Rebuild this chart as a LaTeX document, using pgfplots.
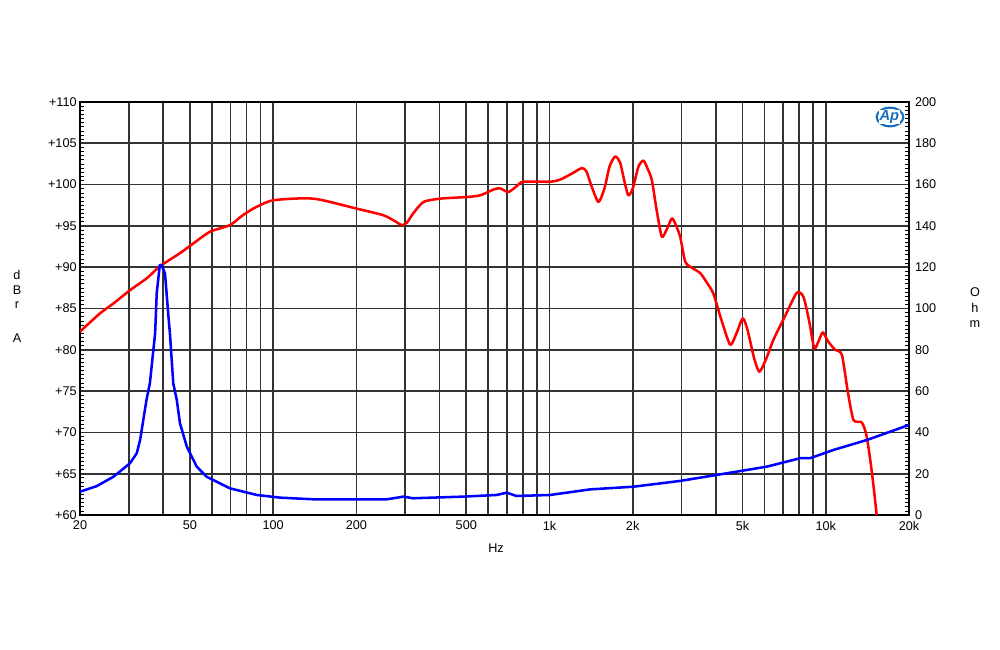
\documentclass[border=0pt]{standalone}
\usepackage{fontspec}
\setmainfont{Liberation Sans}
\usepackage{pgfplots}
\pgfplotsset{compat=1.18}
\definecolor{apblue}{RGB}{25,110,190}
\begin{document}
\begin{tikzpicture}[x=1pt,y=1pt]
\path[use as bounding box] (-60,-101.25) rectangle (690,386.25);
\begin{axis}[at={(0,0)},anchor=south west,scale only axis,
  width=621.75pt,height=309.75pt,
  xmode=log,xmin=20,xmax=20000,ymin=60,ymax=110,
  xtick={20,30,40,50,60,70,80,90,100,200,300,400,500,600,700,800,900,1000,2000,3000,4000,5000,6000,7000,8000,9000,10000,20000},
  xticklabels={20,,,50,,,,,100,200,,,500,,,,,1k,2k,,,5k,,,,,10k,20k},
  minor xtick={},
  ytick={60,65,...,110},
  yticklabels={+60,+65,+70,+75,+80,+85,+90,+95,+100,+105,+110},
  minor y tick num=9,
  ytick pos=left, xtick pos=bottom,
  major tick length=0pt, minor tick length=3pt,
  tick align=inside,
  grid=major,
  major grid style={line width=1.25pt,black!80},
  axis line style={line width=1.25pt,black},
  every tick/.style={black,line width=0.5pt},
  tick label style={font=\fontsize{9.5}{10}\selectfont},
  xticklabel style={yshift=-1pt},
  yticklabel style={xshift=1pt},
  clip=true]
\addplot[red,line width=1.9pt,line join=round,smooth,tension=0.4] coordinates {
(20,82.2)(23.6,84.4)(26.4,85.6)(30.3,87.2)(35,88.7)(38.9,90.1)(46,91.7)(52,93.0)
(59.1,94.3)(69.8,95.1)(77,96.2)(84.8,97.1)(100,98.1)(140,98.3)(200,97.1)(250,96.3)
(275,95.6)(292,95.1)(305,95.4)(321,96.5)(350,97.9)(402,98.3)(502,98.5)(561,98.7)
(627,99.4)(662,99.55)(710,99.1)(760,99.8)(804,100.35)(1005,100.35)(1092,100.6)
(1200,101.3)(1309,102.0)(1360,101.6)(1420,99.8)(1503,97.9)(1580,99.5)(1650,102.2)
(1727,103.4)(1800,102.7)(1870,100.3)(1929,98.7)(2000,99.5)(2100,102.2)(2188,102.9)
(2260,102.0)(2344,100.6)(2440,97.0)(2548,93.7)(2650,94.5)(2770,95.9)(2850,95.3)
(2970,93.7)(3097,90.7)(3250,90.0)(3508,89.3)(3700,88.2)(3918,86.8)(4200,83.5)
(4508,80.6)(4750,82.0)(5003,83.8)(5200,82.5)(5500,79.0)(5750,77.35)(6100,79.0)
(6460,81.2)(7100,84.0)(7850,86.9)(8300,86.4)(8700,83.5)(9080,80.2)(9400,81.0)
(9750,82.1)(10200,81.0)(10810,80.0)(11430,79.4)(12000,75.0)(12590,71.5)(13500,71.2)
(14060,69.5)(14700,65.0)(15280,60.0)};
\end{axis}
\begin{axis}[at={(0,0)},anchor=south west,scale only axis,
  width=621.75pt,height=309.75pt,
  xmode=log,xmin=20,xmax=20000,ymin=0,ymax=200,
  axis x line=none, axis y line*=right,
  ytick={0,20,...,200},
  minor y tick num=9,
  major tick length=0pt, minor tick length=3pt,
  tick align=inside,
  axis line style={line width=1.25pt,black,-},
  every tick/.style={black,line width=0.5pt},
  tick label style={font=\fontsize{9.5}{10}\selectfont},
  yticklabel style={xshift=1pt},
  /pgf/number format/assume math mode=true,
  clip=true]
\addplot[blue,line width=1.9pt,line join=round] coordinates {
(20,11.3)(23,14)(26.4,18.5)(30.3,25.0)(32.1,29.9)(33,36.3)(34.8,55.7)(35.8,63.8)
(37.4,88)(37.9,107.4)(38.9,121.1)(39.5,121)(40.6,117)(41.8,96)(42.3,88)(43.5,63.8)
(44.8,55.7)(46,44.4)(48.7,33.1)(52.9,23.4)(57.5,18.5)(69.8,12.9)(87.2,9.7)(106,8.4)
(140,7.6)(258,7.6)(296,8.9)(321,8.1)(488,8.9)(644,9.7)(700,10.8)(760,9.2)(1005,9.7)
(1403,12.4)(2011,13.7)(2970,16.5)(4027,19.4)(6110,23.4)(8070,27.5)(8770,27.5)
(10650,31.5)(14060,36.3)(20000,43.6)};
\end{axis}
\begin{scope}[every node/.style={font=\fontsize{9.5}{10}\selectfont,inner sep=0pt}]
\node at (-47.25,180) {d};
\node at (-47.25,168.75) {B};
\node at (-47.25,157.5) {r};
\node at (-47.25,132.75) {A};
\node at (671.25,167.25) {O};
\node at (671.25,155.25) {h};
\node at (671.25,143.25) {m};
\node at (312,-24.75) {Hz};
\end{scope}
\draw[apblue,line width=1.6pt] (607.5,298.5) ellipse (10 and 7);
\node[fill=white,inner sep=0.5pt,text=apblue,font=\bfseries\itshape\fontsize{11}{11}\selectfont] at (607,298.5) {Ap};
\end{tikzpicture}
\end{document}
